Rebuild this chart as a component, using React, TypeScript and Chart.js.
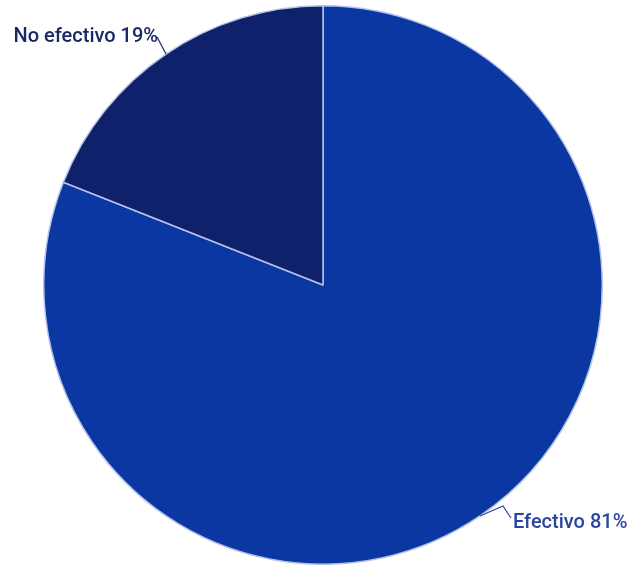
import React, { useEffect, useRef } from "react";
import { Chart, registerables } from "chart.js";

Chart.register(...registerables);

const categories = ["Efectivo", "No efectivo"];
const values = [81, 19];
const sliceColors = ["#0b37a3", "#10216b"];
const labelColors = ["#2a45a0", "#1a2864"];

const labelPlugin = {
  id: "pieLabels",
  afterDraw(chart: any) {
    const ctx = chart.ctx;
    const meta = chart.getDatasetMeta(0);
    const total = values.reduce((a, b) => a + b, 0);
    ctx.save();
    ctx.font = "500 20px Roboto";
    ctx.textBaseline = "middle";
    meta.data.forEach((arc: any, i: number) => {
      const { x, y, startAngle, endAngle, outerRadius } = arc.getProps(
        ["x", "y", "startAngle", "endAngle", "outerRadius"],
        true
      );
      const mid = (startAngle + endAngle) / 2;
      const ex = x + Math.cos(mid) * outerRadius;
      const ey = y + Math.sin(mid) * outerRadius;
      const pct = Math.round((values[i] / total) * 100);
      const text = `${categories[i]} ${pct}%`;
      ctx.strokeStyle = labelColors[i];
      ctx.lineWidth = 1.2;
      ctx.fillStyle = labelColors[i];
      ctx.beginPath();
      if (Math.cos(mid) >= 0) {
        ctx.moveTo(ex, ey);
        ctx.lineTo(ex + 23, ey - 10);
        ctx.lineTo(ex + 31, ey + 2);
        ctx.stroke();
        ctx.textAlign = "left";
        ctx.fillText(text, ex + 33, ey + 7);
      } else {
        ctx.moveTo(ex, ey);
        ctx.lineTo(ex - 9, ey - 17);
        ctx.stroke();
        ctx.textAlign = "right";
        ctx.fillText(text, ex - 8, ey - 17);
      }
    });
    ctx.restore();
  },
};

export default function App() {
  const ref = useRef<HTMLCanvasElement>(null);
  useEffect(() => {
    if (!ref.current) return;
    const chart = new Chart(ref.current, {
      type: "pie",
      data: {
        labels: categories,
        datasets: [
          {
            data: values,
            backgroundColor: sliceColors,
            borderColor: "#b4c2ea",
            borderWidth: 1.5,
          },
        ],
      },
      options: {
        responsive: false,
        animation: false,
        layout: { padding: { top: 5, left: 13, right: 0, bottom: 0 } },
        plugins: {
          legend: { display: false },
          tooltip: { enabled: false },
        },
      },
      plugins: [labelPlugin],
    });
    return () => chart.destroy();
  }, []);
  return (
    <div style={{ position: "fixed", left: 0, top: 0, width: 633, height: 565, background: "#fff" }}>
      <canvas ref={ref} width={633} height={565} style={{ display: "block" }} />
    </div>
  );
}
